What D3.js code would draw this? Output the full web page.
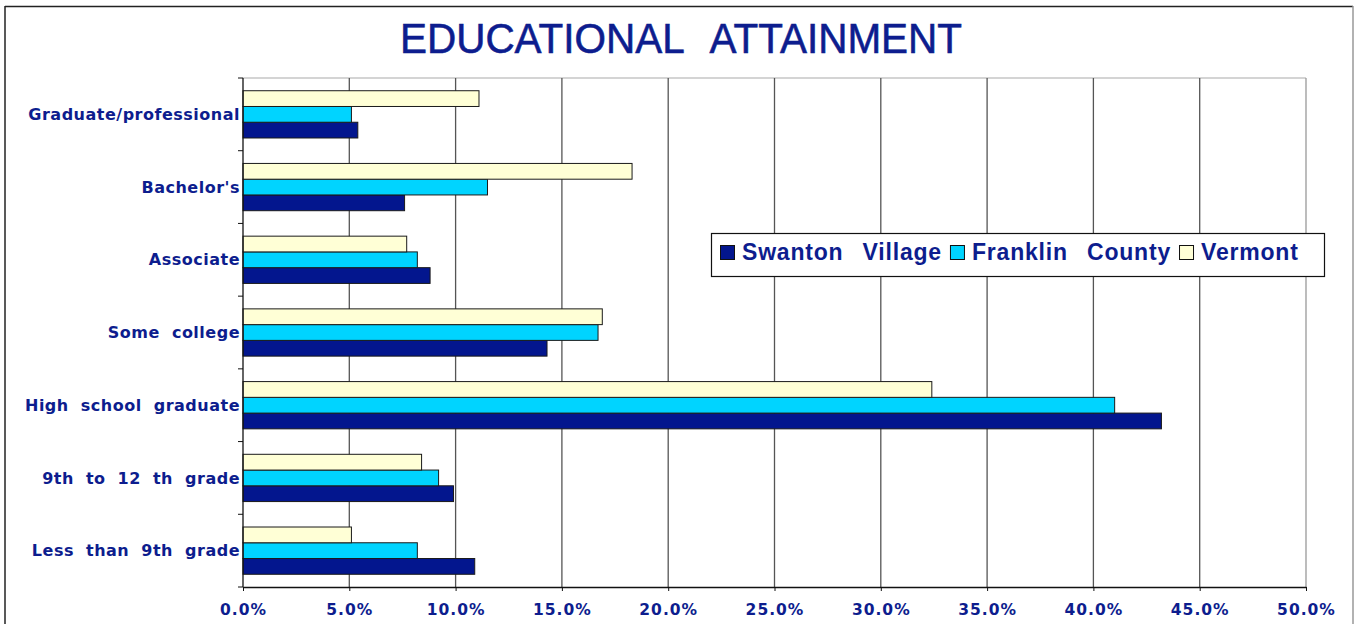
<!DOCTYPE html>
<html>
<head>
<meta charset="utf-8">
<script src="https://cdn.jsdelivr.net/npm/d3@7"></script>
<style>
  html, body { margin: 0; padding: 0; background: #fff; }
  svg { display: block; }
</style>
</head>
<body>
<div id="chart"></div>
<script>
// values (percent of population 25+)
const categories = [
  "Graduate/professional",
  "Bachelor's",
  "Associate",
  "Some college",
  "High school graduate",
  "9th to 12 th grade",
  "Less than 9th grade"
]
const seriesNames = ["Swanton Village", "Franklin County", "Vermont"]
const swanton  = [5.4, 7.6, 8.8, 14.3, 43.2, 9.9, 10.9]
const franklin = [5.1, 11.5, 8.2, 16.7, 41.0, 9.2, 8.2]
const vermont  = [11.1, 18.3, 7.7, 16.9, 32.4, 8.4, 5.1]
const xTicks = [0, 5, 10, 15, 20, 25, 30, 35, 40, 45, 50]
const title = "EDUCATIONAL ATTAINMENT"

const width = 1354
const height = 624
const plot = {left: 243, right: 1306, top: 78, bottom: 587}
const textBlue = "#0d1d8e"
const colors = {"Swanton Village": "#03168e", "Franklin County": "#00d4ff", "Vermont": "#ffffd6"}

const seriesValues = {"Swanton Village": swanton, "Franklin County": franklin, "Vermont": vermont}
const rows = categories.map((c, i) => ({
  category: c,
  values: seriesNames.map(s => ({series: s, value: seriesValues[s][i]}))
}))

const svg = d3.select("#chart").append("svg")
    .attr("width", width)
    .attr("height", height)

// outer frame
svg.append("line").attr("x1", 5).attr("x2", 5).attr("y1", 6).attr("y2", height)
    .attr("stroke", "#222").attr("stroke-width", 1.5)
svg.append("line").attr("x1", 5).attr("x2", 1353).attr("y1", 6.5).attr("y2", 6.5)
    .attr("stroke", "#222").attr("stroke-width", 1.5)
svg.append("line").attr("x1", 1353).attr("x2", 1353).attr("y1", 6).attr("y2", height)
    .attr("stroke", "#999").attr("stroke-width", 1.5)

const x = d3.scaleLinear()
    .domain([0, 50])
    .range([plot.left, plot.right])

const y = d3.scaleBand()
    .domain(categories)
    .range([plot.top, plot.bottom])
    .paddingInner(0.35)
    .paddingOuter(0.175)

// top to bottom inside a group: Vermont, Franklin, Swanton
const ySub = d3.scaleBand()
    .domain(seriesNames.slice().reverse())
    .range([0, y.bandwidth()])

// plot border (top + right) and gridlines
svg.append("line")
    .attr("x1", plot.left).attr("x2", plot.right)
    .attr("y1", plot.top).attr("y2", plot.top)
    .attr("stroke", "#aaa").attr("stroke-width", 1.2)
svg.append("g")
  .selectAll("line")
  .data(xTicks.slice(1))
  .join("line")
    .attr("x1", d => x(d)).attr("x2", d => x(d))
    .attr("y1", plot.top).attr("y2", plot.bottom)
    .attr("stroke", d => d === 50 ? "#999" : "#555")
    .attr("stroke-width", 1.3)

// bars
const group = svg.append("g")
  .selectAll("g")
  .data(rows)
  .join("g")
    .attr("transform", d => `translate(0,${y(d.category)})`)

group.selectAll("rect")
  .data(d => d.values)
  .join("rect")
    .attr("x", x(0))
    .attr("y", d => ySub(d.series))
    .attr("width", d => x(d.value) - x(0))
    .attr("height", ySub.bandwidth())
    .attr("fill", d => colors[d.series])
    .attr("stroke", "#1a1a1a")
    .attr("stroke-width", 1)

// x axis
const xAxis = svg.append("g")
    .attr("transform", `translate(0,${plot.bottom})`)
    .call(d3.axisBottom(x).tickValues(xTicks).tickSize(4).tickSizeOuter(0)
      .tickFormat(d => d.toFixed(1) + "%"))
xAxis.select(".domain").attr("stroke", "#111").attr("stroke-width", 1.3)
xAxis.selectAll(".tick line").attr("stroke", "#111")
xAxis.selectAll(".tick text")
    .attr("y", 17)
    .attr("fill", textBlue)
    .attr("font-family", "DejaVu Sans, Verdana, sans-serif")
    .attr("font-weight", "bold")
    .attr("font-size", 15.5)
    .attr("letter-spacing", 1)

// y axis: line and ticks at the category boundaries
const yAxis = svg.append("g")
yAxis.append("line")
    .attr("x1", plot.left).attr("x2", plot.left)
    .attr("y1", plot.top).attr("y2", plot.bottom)
    .attr("stroke", "#111").attr("stroke-width", 1.3)
yAxis.selectAll(".ytick")
  .data(d3.range(categories.length + 1))
  .join("line")
    .attr("class", "ytick")
    .attr("x1", plot.left - 5).attr("x2", plot.left)
    .attr("y1", i => plot.top + i * y.step())
    .attr("y2", i => plot.top + i * y.step())
    .attr("stroke", "#111")

svg.append("g")
  .selectAll("text")
  .data(categories)
  .join("text")
    .attr("x", plot.left - 3)
    .attr("y", d => y(d) + y.bandwidth() / 2)
    .attr("dy", "0.35em")
    .attr("text-anchor", "end")
    .attr("fill", textBlue)
    .attr("font-family", "DejaVu Sans, Verdana, sans-serif")
    .attr("font-weight", "bold")
    .attr("font-size", 16)
    .attr("letter-spacing", 0.5)
    .attr("word-spacing", 6)
    .text(d => d)

// title
svg.append("text")
    .attr("x", 400)
    .attr("y", 53)
    .attr("fill", textBlue)
    .attr("font-family", "Liberation Sans, Arial, sans-serif")
    .attr("font-size", 42)
    .attr("word-spacing", 18)
    .attr("stroke", textBlue)
    .attr("stroke-width", 0.6)
    .attr("textLength", 562)
    .attr("lengthAdjust", "spacingAndGlyphs")
    .text(title)

// legend
const legend = svg.append("g")
legend.append("rect")
    .attr("x", 711.5).attr("y", 233.5)
    .attr("width", 613).attr("height", 43)
    .attr("fill", "#fff")
    .attr("stroke", "#111")
    .attr("stroke-width", 1.2)

let lx = 720
seriesNames.forEach(s => {
  legend.append("rect")
      .attr("x", lx + 0.5).attr("y", 245.5)
      .attr("width", 14).attr("height", 14)
      .attr("fill", colors[s])
      .attr("stroke", "#111")
  const t = legend.append("text")
      .attr("x", lx + 22)
      .attr("y", 260)
      .attr("fill", textBlue)
      .attr("font-family", "Liberation Sans, Arial, sans-serif")
      .attr("font-weight", "bold")
      .attr("font-size", 23)
      .attr("letter-spacing", 0.8)
      .attr("word-spacing", 12)
      .text(s)
  lx = lx + 22 + t.node().getComputedTextLength() + 8
})
</script>
</body>
</html>
